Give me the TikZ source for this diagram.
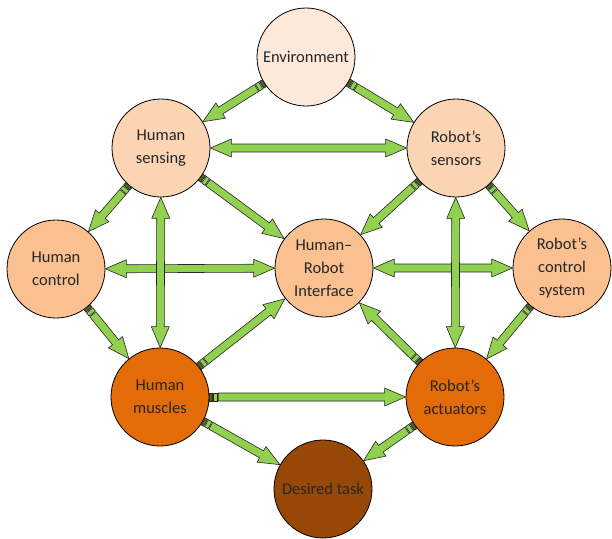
\documentclass[tikz,border=0pt]{standalone}
\usepackage{fontspec}
\setmainfont{Carlito}
\usetikzlibrary{decorations.markings}
\definecolor{envfill}{HTML}{FDE9D9}
\definecolor{sensfill}{HTML}{FBD4B4}
\definecolor{ctrlfill}{HTML}{FAC08F}
\definecolor{actfill}{HTML}{E36C09}
\definecolor{taskfill}{HTML}{984806}
\definecolor{arrgreen}{HTML}{92D050}
\definecolor{tailgreen}{HTML}{4F6228}
\begin{document}
\begin{tikzpicture}[x=1pt,y=-1pt]
    \tikzset{
    ball/.style={circle,minimum size=98pt,inner sep=0pt,align=center,draw=black,line width=0.8pt,text=black!85,font=\fontsize{16.5}{23}\selectfont},
    c0/.style={ball,fill=envfill},
    c1/.style={ball,fill=sensfill},
    c2/.style={ball,fill=ctrlfill},
    c3/.style={ball,fill=actfill},
    c4/.style={ball,fill=taskfill},
    fat/.style={draw=black!85,line width=0.6pt,line join=miter},
    % one head, striped tail at the start
    a1/.style={decorate,decoration={markings,mark=at position 0 with {
        \draw[fat,fill=tailgreen] (0pt,-4pt) rectangle (3pt,4pt);
        \draw[fat,fill=arrgreen] (4pt,-4pt) rectangle (8pt,4pt);
        \draw[fat,fill=arrgreen] (9pt,-4pt) -- ({\pgfdecoratedpathlength-21pt},-4pt)
            -- ({\pgfdecoratedpathlength-21pt},-9pt) -- ({\pgfdecoratedpathlength},0pt)
            -- ({\pgfdecoratedpathlength-21pt},9pt) -- ({\pgfdecoratedpathlength-21pt},4pt)
            -- (9pt,4pt) -- cycle;
    }}},
    % heads at both ends
    a2/.style={decorate,decoration={markings,mark=at position 0 with {
        \draw[fat,fill=arrgreen] (0pt,0pt) -- (21pt,-9pt) -- (21pt,-4pt)
            -- ({\pgfdecoratedpathlength-21pt},-4pt) -- ({\pgfdecoratedpathlength-21pt},-9pt)
            -- ({\pgfdecoratedpathlength},0pt) -- ({\pgfdecoratedpathlength-21pt},9pt)
            -- ({\pgfdecoratedpathlength-21pt},4pt) -- (21pt,4pt) -- (21pt,9pt) -- cycle;
    }}},
    }
    \useasboundingbox (0,0) rectangle (612,538);
    \node[c0] (env) at (306,57) {Environment};
    \node[c1] (hs) at (161,148) {Human\\sensing};
    \node[c1] (rs) at (456,148) {Robot’s\\sensors};
    \node[c2] (hc) at (56,269) {Human\\control};
    \node[c2] (hri) at (324,268) {Human–\\Robot\\Interface};
    \node[c2] (rc) at (562,268) {Robot’s\\control\\system};
    \node[c3] (hm) at (160,397) {Human\\muscles};
    \node[c3] (ra) at (455,397) {Robot’s\\actuators};
    \node[c4] (task) at (323,489) {Desired task};
    % horizontal links first
    \path[a2] (hs) -- (rs);
    \path[a2] (hc) -- (hri);
    \path[a2] (hri) -- (rc);
    \path[a1] (hm) -- (ra);
    % slanted links
    \path[a1] (env) -- (hs);
    \path[a1] (env) -- (rs);
    \path[a1] (hs) -- (hc);
    \path[a1] (hs) -- (hri);
    \path[a1] (rs) -- (hri);
    \path[a1] (rs) -- (rc);
    \path[a1] (hc) -- (hm);
    \path[a1] (rc) -- (ra);
    \path[a1] (hm) -- (hri);
    \path[a1] (ra) -- (hri);
    \path[a1] (hm) -- (task);
    \path[a1] (ra) -- (task);
    % vertical links on top
    \path[a2] (hs) -- (hm);
    \path[a2] (rs) -- (ra);
\end{tikzpicture}
\end{document}
